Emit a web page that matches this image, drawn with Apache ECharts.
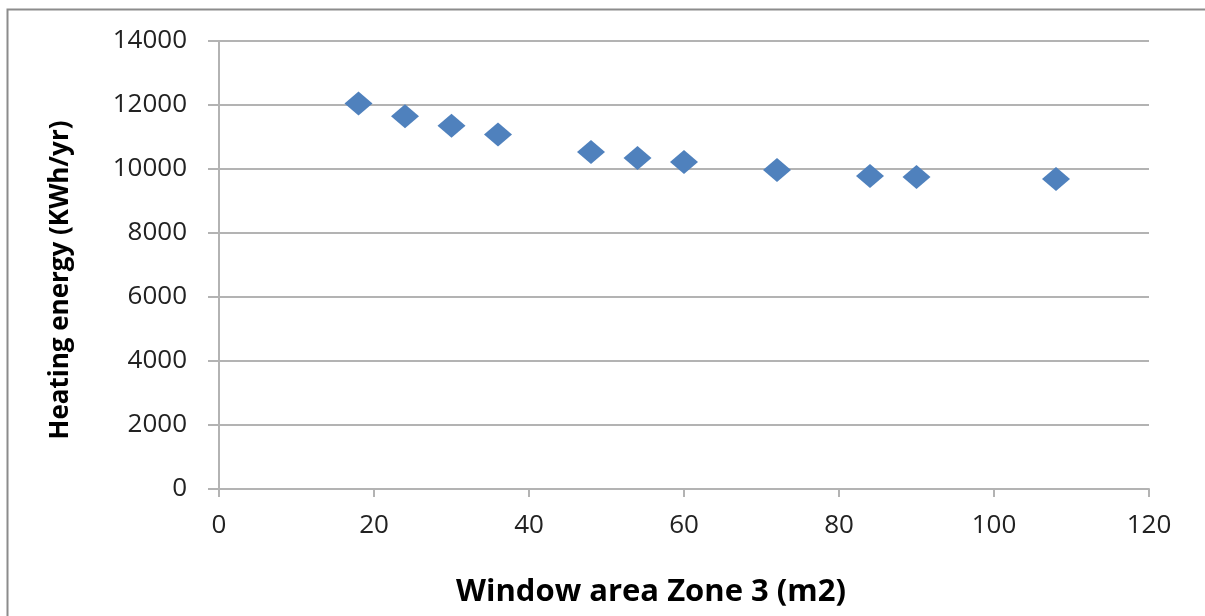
<!DOCTYPE html>
<html>
<head>
<meta charset="utf-8">
<script src="https://cdn.jsdelivr.net/npm/echarts@6/dist/echarts.min.js"></script>
<style>
  html, body { margin: 0; padding: 0; background: #fff; }
  #chart { width: 1205px; height: 616px; }
</style>
</head>
<body>
<div id="chart"></div>
<script>
// window area (m2) and heating energy (KWh/yr)
const windowArea = [18, 24, 30, 36, 48, 54, 60, 72, 84, 90, 108];
const heatingEnergy = [12050, 11650, 11350, 11080, 10530, 10340, 10220, 9970, 9780, 9750, 9690];

const xTitle = "Window area Zone 3 (m2)";
const yTitle = "Heating energy (KWh/yr)";

const gridColor = "#b3b3b3";
const labelFont = "Open Sans";

let myChart = echarts.init(document.getElementById("chart"));

myChart.setOption({
  animation: false,
  textStyle: { fontFamily: labelFont },
  graphic: [
    // outer frame
    {
      type: "rect",
      shape: { x: 7.5, y: 9.5, width: 1220, height: 640 },
      style: { fill: "none", stroke: "#8c8c8c", lineWidth: 2 },
      silent: true,
    },
    // axis titles
    {
      type: "text",
      x: 61,
      y: 280,
      rotation: Math.PI / 2,
      style: {
        text: yTitle,
        fill: "#000",
        font: "bold 26px 'Open Sans'",
        align: "center",
        verticalAlign: "middle",
      },
      silent: true,
    },
    {
      type: "text",
      x: 651,
      y: 592,
      style: {
        text: xTitle,
        fill: "#000",
        font: "bold 31px 'Open Sans'",
        align: "center",
        verticalAlign: "middle",
      },
      silent: true,
    },
  ],
  grid: {
    left: 219,
    right: 56,
    top: 41,
    bottom: 127,
    outerBoundsMode: "none",
  },
  xAxis: {
    type: "value",
    min: 0,
    max: 120,
    interval: 20,
    axisLine: { show: true, lineStyle: { color: gridColor, width: 2 } },
    axisTick: { show: true, length: 8, lineStyle: { color: gridColor, width: 2 } },
    axisLabel: { color: "#222", fontSize: 26, margin: 24 },
    splitLine: { show: false },
  },
  yAxis: {
    type: "value",
    min: 0,
    max: 14000,
    interval: 2000,
    axisLine: { show: true, lineStyle: { color: gridColor, width: 2 } },
    axisTick: { show: true, length: 11, lineStyle: { color: gridColor, width: 2 } },
    axisLabel: {
      color: "#222",
      fontSize: 26,
      margin: 32,
      formatter: (value) => String(value),
    },
    splitLine: { show: true, lineStyle: { color: gridColor, width: 2 } },
  },
  series: [
    {
      type: "scatter",
      symbol: "diamond",
      symbolSize: [28, 24],
      itemStyle: { color: "#4f81bd", opacity: 1 },
      data: windowArea.map((x, i) => [x, heatingEnergy[i]]),
    },
  ],
});
</script>
</body>
</html>
